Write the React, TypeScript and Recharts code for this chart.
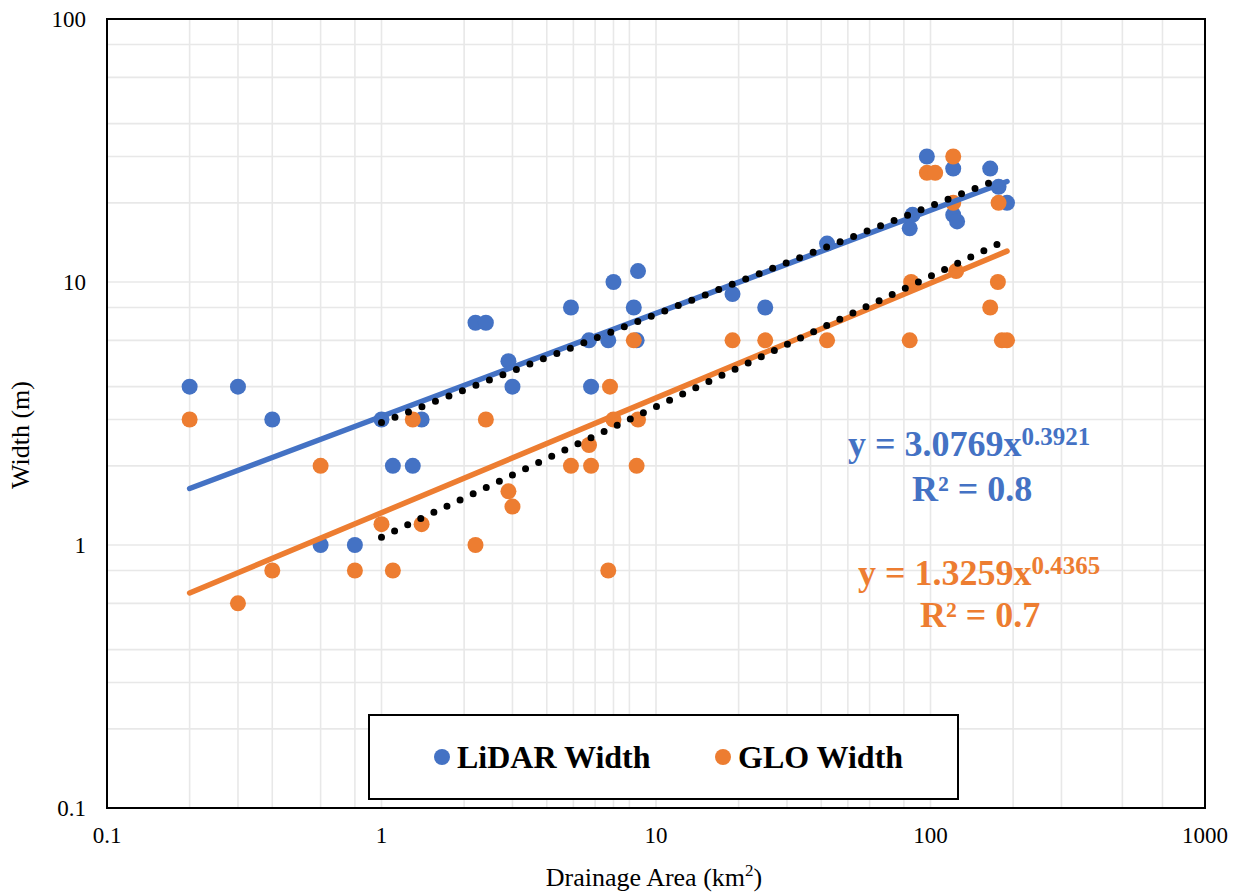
import React from "react";
import {
  CartesianGrid,
  Customized,
  Scatter,
  ScatterChart,
  XAxis,
  YAxis,
} from "recharts";

const BLUE = "#4472C4";
const ORANGE = "#ED7D31";
const FONT = "'Times New Roman', 'Liberation Serif', serif";

const xTicks = [0.1, 1, 10, 100, 1000];
const yTicks = [0.1, 1, 10, 100];
const gridMultipliers = [1, 2, 3, 4, 5, 6, 7, 8, 9];

// LiDAR measured widths (drainage area km2, width m)
const lidarPoints = [
  { x: 0.2, y: 4 }, { x: 0.3, y: 4 }, { x: 0.4, y: 3 }, { x: 0.6, y: 1 },
  { x: 0.8, y: 1 }, { x: 1, y: 3 }, { x: 1.1, y: 2 }, { x: 1.3, y: 2 },
  { x: 1.4, y: 3 }, { x: 2.2, y: 7 }, { x: 2.4, y: 7 }, { x: 2.9, y: 5 },
  { x: 3, y: 4 }, { x: 4.9, y: 8 }, { x: 5.7, y: 6 }, { x: 5.8, y: 4 },
  { x: 6.7, y: 6 }, { x: 7, y: 10 }, { x: 8.3, y: 8 }, { x: 8.5, y: 6 },
  { x: 8.6, y: 11 }, { x: 19, y: 9 }, { x: 25, y: 8 }, { x: 42, y: 14 },
  { x: 84, y: 16 }, { x: 86, y: 18 }, { x: 97, y: 30 }, { x: 121, y: 27 },
  { x: 121, y: 18 }, { x: 125, y: 17 }, { x: 165, y: 27 }, { x: 177, y: 23 },
  { x: 190, y: 20 },
];

// GLO widths
const gloPoints = [
  { x: 0.2, y: 3 }, { x: 0.3, y: 0.6 }, { x: 0.4, y: 0.8 }, { x: 0.6, y: 2 },
  { x: 0.8, y: 0.8 }, { x: 1, y: 1.2 }, { x: 1.1, y: 0.8 }, { x: 1.3, y: 3 },
  { x: 1.4, y: 1.2 }, { x: 2.2, y: 1 }, { x: 2.4, y: 3 }, { x: 2.9, y: 1.6 },
  { x: 3, y: 1.4 }, { x: 4.9, y: 2 }, { x: 5.7, y: 2.4 }, { x: 5.8, y: 2 },
  { x: 6.7, y: 0.8 }, { x: 6.8, y: 4 }, { x: 7, y: 3 }, { x: 8.3, y: 6 },
  { x: 8.5, y: 2 }, { x: 8.6, y: 3 }, { x: 19, y: 6 }, { x: 25, y: 6 },
  { x: 42, y: 6 }, { x: 84, y: 6 }, { x: 85, y: 10 }, { x: 97, y: 26 },
  { x: 104, y: 26 }, { x: 121, y: 30 }, { x: 121, y: 20 }, { x: 124, y: 11 },
  { x: 165, y: 8 }, { x: 176, y: 10 }, { x: 177, y: 20 }, { x: 182, y: 6 },
  { x: 190, y: 6 },
];

// power trendlines (straight in log-log), endpoints
const lidarTrend = [{ x: 0.2, y: 1.64 }, { x: 190, y: 24.1 }];
const gloTrend = [{ x: 0.2, y: 0.657 }, { x: 190, y: 13.1 }];
// black dotted fits
const lidarDotted = [{ x: 1, y: 2.92 }, { x: 172, y: 24.3 }];
const gloDotted = [{ x: 1, y: 1.07 }, { x: 183, y: 14.2 }];

const xGrid = xTicks
  .slice(0, -1)
  .flatMap((d) => gridMultipliers.map((m) => +(m * d).toPrecision(3)))
  .concat([1000]);
const yGrid = yTicks
  .slice(0, -1)
  .flatMap((d) => gridMultipliers.map((m) => +(m * d).toPrecision(3)))
  .concat([100]);

const dot = (color: string) => (props: any) =>
  <circle cx={props.cx} cy={props.cy} r={8} fill={color} />;

const noShape = () => <g />;

const XTick = (props: any) => (
  <text
    x={props.x}
    y={props.y}
    dy={16}
    textAnchor="middle"
    fontSize={23}
    fontFamily={FONT}
    fill="#000"
  >
    {String(props.payload.value)}
  </text>
);

const YTick = (props: any) => (
  <text
    x={props.x}
    y={props.y}
    dy={8}
    textAnchor="end"
    fontSize={23}
    fontFamily={FONT}
    fill="#000"
  >
    {String(props.payload.value)}
  </text>
);

function Overlay() {
  return (
    <g style={{ fontFamily: FONT }}>
      <rect x={107} y={19} width={1098} height={789} fill="none" stroke="#000" strokeWidth={2} />
      <text x={654} y={886} textAnchor="middle" fontSize={26} fill="#000">
        Drainage Area (km<tspan dy={-10} fontSize={17}>2</tspan>
        <tspan dy={10}>)</tspan>
      </text>
      <text
        x={0}
        y={0}
        transform="translate(29 435) rotate(-90)"
        textAnchor="middle"
        fontSize={26}
        fill="#000"
      >
        Width (m)
      </text>

      <text x={848} y={456} fontSize={36} fontWeight="bold" fill={BLUE}>
        y = 3.0769x<tspan dy={-11} fontSize={25}>0.3921</tspan>
      </text>
      <text x={912} y={501} fontSize={36} fontWeight="bold" fill={BLUE}>
        R² = 0.8
      </text>
      <text x={858} y={585} fontSize={36} fontWeight="bold" fill={ORANGE}>
        y = 1.3259x<tspan dy={-11} fontSize={25}>0.4365</tspan>
      </text>
      <text x={920} y={627} fontSize={36} fontWeight="bold" fill={ORANGE}>
        R² = 0.7
      </text>

      <rect x={369} y={715} width={589} height={84} fill="#fff" stroke="#000" strokeWidth={2} />
      <circle cx={442} cy={757} r={8} fill={BLUE} />
      <text x={457} y={768} fontSize={32} fontWeight="bold" fill="#000">
        LiDAR Width
      </text>
      <circle cx={723} cy={757} r={8} fill={ORANGE} />
      <text x={738} y={768} fontSize={32} fontWeight="bold" fill="#000">
        GLO Width
      </text>
    </g>
  );
}

export default function App() {
  return (
    <div
      style={{
        position: "absolute",
        left: 0,
        top: 0,
        width: 1243,
        height: 894,
        background: "#fff",
        fontFamily: FONT,
      }}
    >
      <ScatterChart
        width={1243}
        height={894}
        margin={{ top: 19, right: 38, bottom: 26, left: 37 }}
      >
        <CartesianGrid
          stroke="#e8e8e8"
          strokeWidth={1.6}
          horizontalValues={yGrid}
          verticalValues={xGrid}
        />
        <XAxis
          type="number"
          dataKey="x"
          scale="log"
          domain={[0.1, 1000]}
          ticks={xTicks}
          allowDataOverflow
          axisLine={false}
          tickLine={false}
          tickSize={8}
          tickMargin={11}
          height={60}
          tick={XTick}
        />
        <YAxis
          type="number"
          dataKey="y"
          scale="log"
          domain={[0.1, 100]}
          ticks={yTicks}
          allowDataOverflow
          axisLine={false}
          tickLine={false}
          tickSize={8}
          tickMargin={13}
          width={70}
          tick={YTick}
        />
        <Scatter
          name="LiDAR Width"
          data={lidarPoints}
          shape={dot(BLUE)}
          isAnimationActive={false}
        />
        <Scatter
          name="GLO Width"
          data={gloPoints}
          shape={dot(ORANGE)}
          isAnimationActive={false}
        />
        <Scatter
          data={lidarTrend}
          shape={noShape}
          line={{ stroke: BLUE, strokeWidth: 5.5, strokeLinecap: "round" }}
          isAnimationActive={false}
        />
        <Scatter
          data={gloTrend}
          shape={noShape}
          line={{ stroke: ORANGE, strokeWidth: 5.5, strokeLinecap: "round" }}
          isAnimationActive={false}
        />
        <Scatter
          data={lidarDotted}
          shape={noShape}
          line={{ stroke: "#000", strokeWidth: 7, strokeDasharray: "0 14.5", strokeLinecap: "round" }}
          isAnimationActive={false}
        />
        <Scatter
          data={gloDotted}
          shape={noShape}
          line={{ stroke: "#000", strokeWidth: 7, strokeDasharray: "0 14.5", strokeLinecap: "round" }}
          isAnimationActive={false}
        />
        <Customized component={Overlay} />
      </ScatterChart>
    </div>
  );
}
